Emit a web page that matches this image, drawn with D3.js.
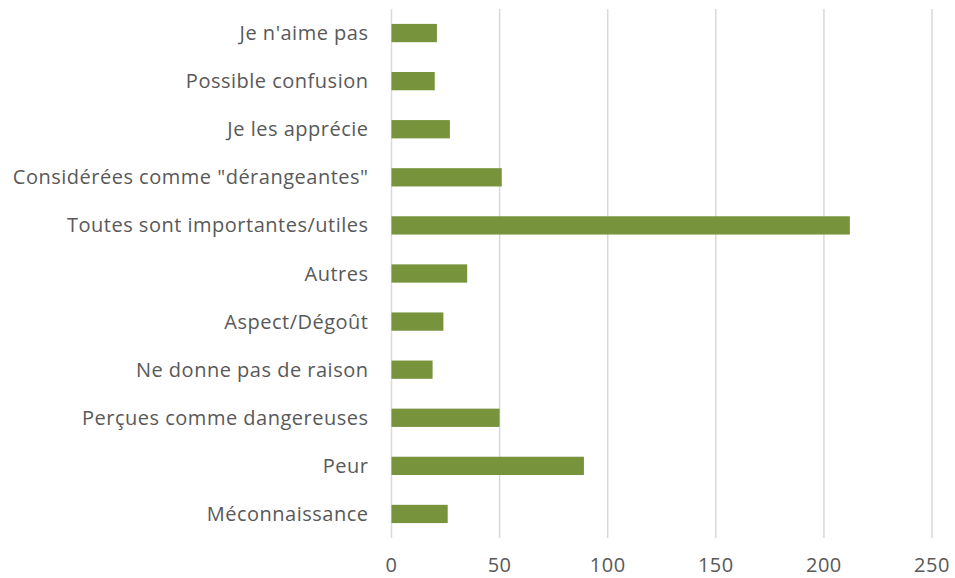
<!DOCTYPE html>
<html>
<head>
<meta charset="utf-8">
<script src="https://cdn.jsdelivr.net/npm/d3@7"></script>
<style>
  body { margin: 0; background: #fff; }
  text { font-family: "Open Sans", sans-serif; fill: #595959; letter-spacing: 0.5px; }
</style>
</head>
<body>
<div id="chart"></div>
<script>
const categories = [
  "Je n'aime pas",
  'Possible confusion',
  'Je les apprécie',
  'Considérées comme "dérangeantes"',
  'Toutes sont importantes/utiles',
  'Autres',
  'Aspect/Dégoût',
  'Ne donne pas de raison',
  'Perçues comme dangereuses',
  'Peur',
  'Méconnaissance'
];
const values = [21, 20, 27, 51, 212, 35, 24, 19, 50, 89, 26];
const xTicks = [0, 50, 100, 150, 200, 250];

const width = 955, height = 578;
const margin = {top: 9, right: 23, bottom: 40, left: 391.5};

const svg = d3.select('#chart')
  .append('svg')
  .attr('width', width)
  .attr('height', height);

const x = d3.scaleLinear()
  .domain([0, 250])
  .range([margin.left, width - margin.right]);

const y = d3.scaleBand()
  .domain(categories)
  .range([margin.top, height - margin.bottom])
  .paddingInner(0.62)
  .paddingOuter(0.31);

//gridlines
svg.append('g')
  .selectAll('line')
  .data(xTicks)
  .enter().append('line')
  .attr('x1', d => x(d))
  .attr('x2', d => x(d))
  .attr('y1', margin.top)
  .attr('y2', height - margin.bottom)
  .style('stroke', '#d9d9d9')
  .style('stroke-width', 1.5);

//bars
svg.append('g')
  .selectAll('rect')
  .data(values)
  .enter().append('rect')
  .attr('x', x(0))
  .attr('y', (d, i) => y(categories[i]))
  .attr('width', d => x(d) - x(0))
  .attr('height', y.bandwidth())
  .style('fill', '#77933c');

//category labels
svg.append('g')
  .selectAll('text')
  .data(categories)
  .enter().append('text')
  .attr('x', margin.left - 23)
  .attr('y', d => y(d) + y.bandwidth() / 2)
  .attr('dy', '0.35em')
  .attr('text-anchor', 'end')
  .style('font-size', '20px')
  .text(d => d);

//x tick labels
svg.append('g')
  .selectAll('text')
  .data(xTicks)
  .enter().append('text')
  .attr('x', d => x(d))
  .attr('y', 565)
  .attr('dy', '0.35em')
  .attr('text-anchor', 'middle')
  .style('font-size', '20px')
  .text(d => d);
</script>
</body>
</html>
